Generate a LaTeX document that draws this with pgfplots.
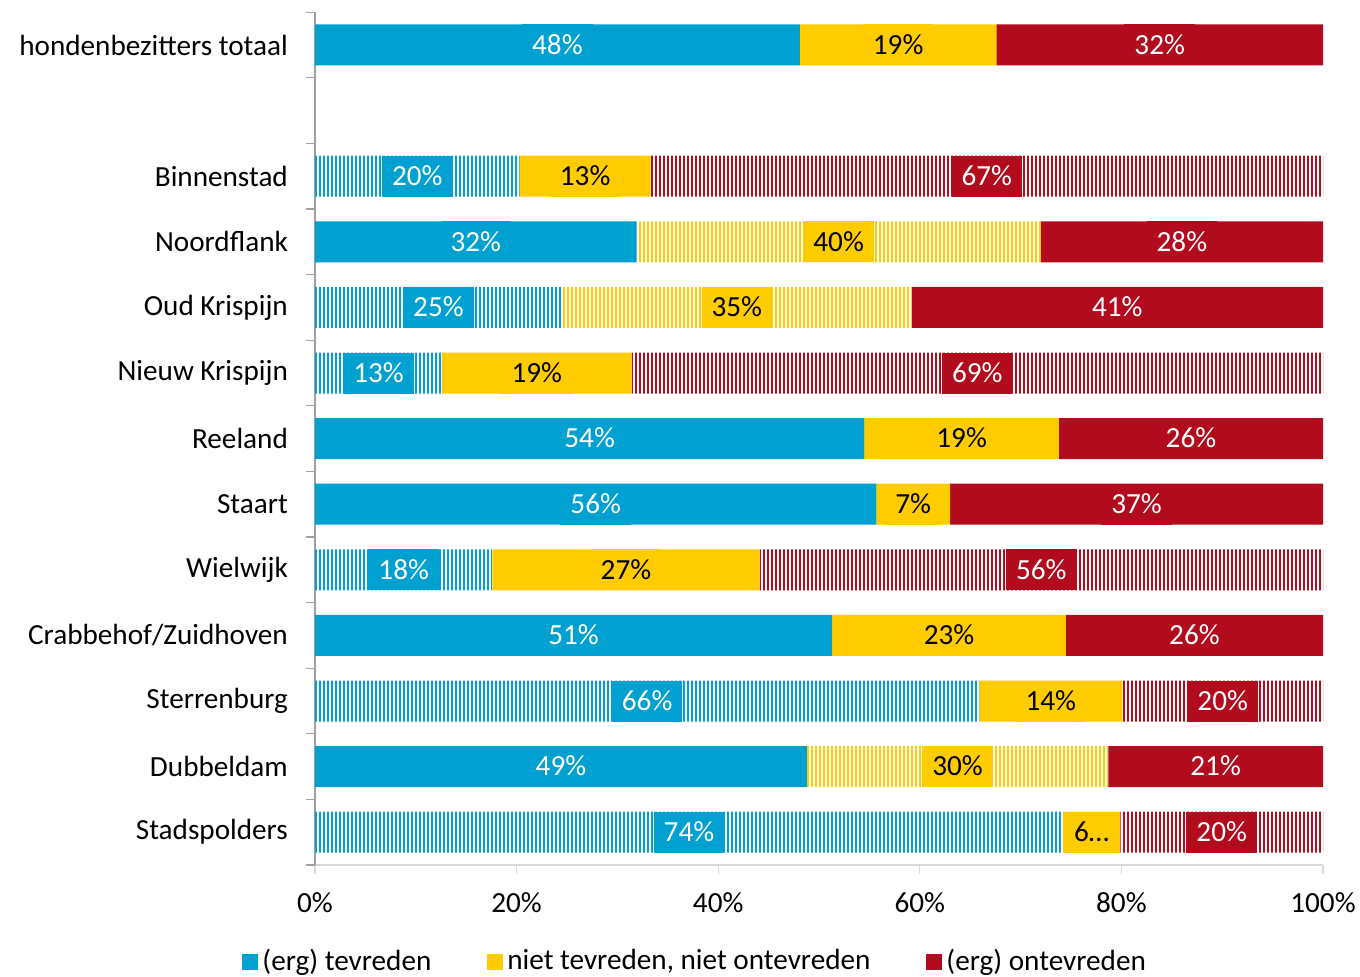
\documentclass[border=0pt]{standalone}
\usepackage{pgfplots}
\pgfplotsset{compat=1.18}
\usepackage{pgfplotstable}
\usepackage{fontspec}
\setmainfont{Carlito}
\usetikzlibrary{patterns.meta}

\definecolor{cBlue}{HTML}{00A0D1}
\definecolor{cYellow}{HTML}{FFCC00}
\definecolor{cRed}{HTML}{B20B1E}

% s = solid segment, p = hatched segment; label -1 = no label, 999 = truncated "6..."
\pgfplotstableread{
idx bs   bp   ys   yp   rs   rp   lbs lbp lys lyp lrs lrp
12  48.1 0    19.5 0    32.4 0    48  -1  19  -1  32  -1
10  0    20.3 13.0 0    0    66.7 -1  20  13  -1  -1  67
9   31.9 0    0    40.1 28.0 0    32  -1  -1  40  28  -1
8   0    24.5 0    34.7 40.8 0    -1  25  -1  35  41  -1
7   0    12.6 18.8 0    0    68.6 -1  13  19  -1  -1  69
6   54.5 0    19.3 0    26.2 0    54  -1  19  -1  26  -1
5   55.7 0    7.3  0    37.0 0    56  -1  7   -1  37  -1
4   0    17.6 26.5 0    0    55.9 -1  18  27  -1  -1  56
3   51.3 0    23.2 0    25.5 0    51  -1  23  -1  26  -1
2   0    65.9 14.2 0    0    19.9 -1  66  14  -1  -1  20
1   48.8 0    0    29.9 21.3 0    49  -1  -1  30  21  -1
0   0    74.2 0    5.7  0    20.1 -1  74  -1  999 -1  20
}\data

\newcommand\seglab[2]{\ifnum\pgfplotspointmeta<0 \else{\setlength\fboxsep{0pt}\colorbox{#1}{\hspace{5pt}\rule[-5.6pt]{0pt}{20.5pt}\color{#2}\ifnum\pgfplotspointmeta>100 6…\else\pgfplotspointmeta\%\fi\hspace{5pt}}}\fi}

\pgfplotsset{
  seglabel/.style 2 args={nodes near coords={\seglab{#1}{#2}}},
  hatch/.style={draw=none, pattern={Lines[angle=90,distance=2pt,line width=1.1pt]}, pattern color=#1},
}

\begin{document}
\begin{tikzpicture}
\fontsize{14.6}{17}\selectfont
\begin{axis}[
  at={(0,0)}, anchor=south west,
  x=5.04pt, y=32.8pt,
  xmin=0, xmax=100, ymin=-0.5, ymax=12.5,
  xbar stacked, bar width=20.5pt,
  axis x line*=bottom, axis y line*=left,
  x axis line style={draw=gray!30, line width=0.6pt},
  y axis line style={draw=gray!75, line width=0.6pt},
  tick align=outside,
  xtick={0,20,...,100},
  xticklabels={0\%,20\%,40\%,60\%,80\%,100\%},
  major tick length=4.5pt, minor tick length=4.5pt,
  major x tick style={draw=gray!30, line width=0.6pt},
  ytick={0,...,10,12},
  yticklabels={Stadspolders,Dubbeldam,Sterrenburg,Crabbehof/Zuidhoven,Wielwijk,Staart,Reeland,Nieuw Krispijn,Oud Krispijn,Noordflank,Binnenstad,hondenbezitters totaal},
  major y tick style={draw=none},
  minor ytick={-0.5,0.5,...,12.5},
  minor y tick style={draw=gray!75, line width=0.6pt},
  tick label style={font=\fontsize{14.6}{17}\selectfont, text=black},
  xticklabel style={yshift=-4pt},
  yticklabel style={xshift=-4pt},
  point meta=explicit symbolic,
  every node near coord/.append style={anchor=center, inner sep=0pt,
    font=\fontsize{14.6}{17}\selectfont},
  legend style={at={(-0.0724,-0.1137)}, anchor=west, draw=none, fill=none,
    legend columns=3, inner xsep=0pt, font=\fontsize{14.6}{17}\selectfont,
    /tikz/every even column/.append style={column sep=26pt}},
  legend image code/.code={\fill[#1] (0pt,-4pt) rectangle (8pt,4pt);},
  legend cell align=left,
]
\addplot[fill=cBlue, draw=none, seglabel={cBlue}{white}]
  table[x=bs, y=idx, meta=lbs] \data;
\addlegendentry{(erg) tevreden}
\addplot[hatch=cBlue, seglabel={cBlue}{white}, forget plot]
  table[x=bp, y=idx, meta=lbp] \data;
\addplot[fill=cYellow, draw=none, seglabel={cYellow}{black}]
  table[x=ys, y=idx, meta=lys] \data;
\addlegendentry{niet tevreden, niet ontevreden}
\addplot[hatch=cYellow, seglabel={cYellow}{black}, forget plot]
  table[x=yp, y=idx, meta=lyp] \data;
\addplot[fill=cRed, draw=none, seglabel={cRed}{white}]
  table[x=rs, y=idx, meta=lrs] \data;
\addlegendentry{(erg) ontevreden}
\addplot[hatch=cRed, seglabel={cRed}{white}, forget plot]
  table[x=rp, y=idx, meta=lrp] \data;
\end{axis}
\pgfresetboundingbox
\path (-157.5pt,-55.5pt) rectangle (522.5pt,432.5pt);
\end{tikzpicture}
\end{document}
